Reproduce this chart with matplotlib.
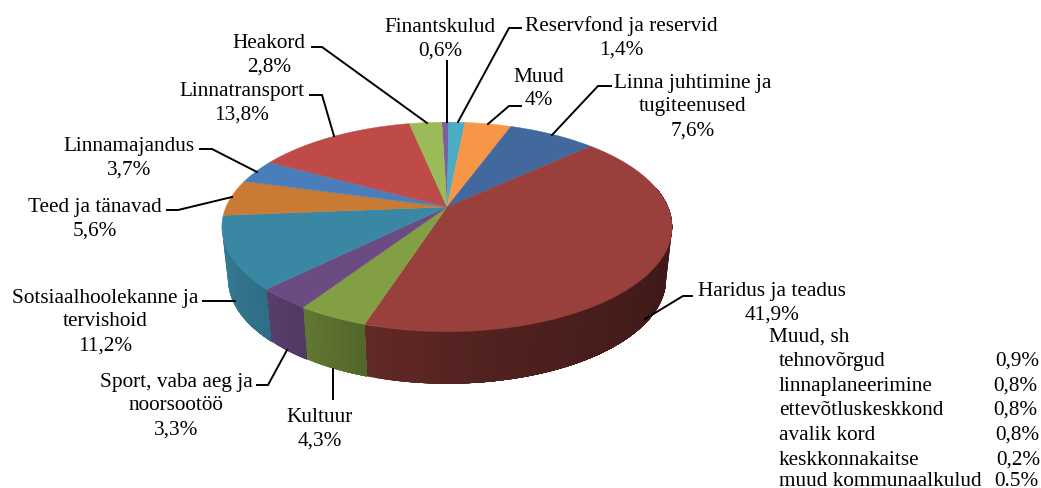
from matplotlib import pyplot as plt
from matplotlib import transforms as mtrans
from matplotlib.path import Path
import numpy as np

# slices, clockwise from the top of the pie
slice_names = ["Finantskulud", "Reservfond ja reservid", "Muud",
               "Linna juhtimine ja\ntugiteenused", "Haridus ja teadus", "Kultuur",
               "Sport, vaba aeg ja\nnoorsootöö", "Sotsiaalhoolekanne ja\ntervishoid",
               "Teed ja tänavad", "Linnamajandus", "Linnatransport", "Heakord"]
slice_values = [0.6, 1.4, 4, 7.6, 41.9, 4.3, 3.3, 11.2, 5.6, 3.7, 13.8, 2.8]
slice_texts = ["0,6%", "1,4%", "4%", "7,6%", "41,9%", "4,3%", "3,3%", "11,2%",
               "5,6%", "3,7%", "13,8%", "2,8%"]
slice_colors = ["#7a5fa5", "#4bacc6", "#f79646", "#41699e", "#9a403c", "#829f43",
                "#6a4b82", "#3a87a4", "#c97a34", "#4a7ebb", "#be4b48", "#9bbb59"]

# small table under the Haridus label
muud_title = "Muud, sh"
muud_names = ["tehnovõrgud", "linnaplaneerimine", "ettevõtluskeskkond", "avalik kord",
              "keskkonnakaitse", "muud kommunaalkulud"]
muud_texts = ["0,9%", "0,8%", "0,8%", "0,8%", "0,2%", "0.5%"]

START_ANGLE = 91.6
CX, CY = 447, 208
K, A, B = 0.19, 101, 221
DEPTH = 52
FONT = 15.3


class TiltTransform(mtrans.Transform):
    # unit circle -> tilted pie top, in pixel style data coords
    input_dims = 2
    output_dims = 2
    is_separable = False
    has_inverse = False

    def transform_non_affine(self, values):
        values = np.asarray(values, dtype=float)
        w = 1 + K * values[:, 1]
        return np.column_stack([CX + B * values[:, 0] / w, CY - A * values[:, 1] / w])

    def transform_path_non_affine(self, path):
        # flatten the arcs first, beziers do not survive a perspective map well
        big = path.transformed(mtrans.Affine2D().scale(3000))
        verts = big.to_polygons(closed_only=False)[0] / 3000
        return Path(self.transform_non_affine(verts))


def wall_shade(angle):
    return np.interp(angle, [-170, -130, -108, -80, -30, 10], [0.92, 0.8, 0.64, 0.52, 0.41, 0.41])


def draw_walls(ax, tilt):
    edges = START_ANGLE - np.concatenate([[0], np.cumsum(slice_values)]) * 360 / sum(slice_values)
    for i, color in enumerate(slice_colors):
        a2, a1 = edges[i], edges[i + 1]
        # only the near side of the pie is visible
        a2 = min(a2, 11) if a1 < 11 else a2
        a1 = max(a1, -169)
        if a1 >= a2 or a1 > 11:
            continue
        steps = np.linspace(a1, a2, max(2, int((a2 - a1) / 2) + 2))
        rgb = np.array(plt.matplotlib.colors.to_rgb(color))
        # each strip runs to the end of the slice, the next one paints over it
        for t1, t2 in zip(steps[:-1], steps[1:]):
            th = np.radians(np.linspace(t1, a2, 40))
            top = tilt.transform_non_affine(np.column_stack([np.cos(th), np.sin(th)]))
            low = np.column_stack([CX + 0.973 * (top[:, 0] - CX), top[:, 1] + DEPTH])
            poly = np.vstack([top, low[::-1]])
            col = rgb * wall_shade((t1 + t2) / 2)
            ax.fill(poly[:, 0], poly[:, 1], facecolor=col, edgecolor="none", lw=0, zorder=1)


if __name__ == "__main__":
    plt.rcParams["font.family"] = "Liberation Serif"
    fig = plt.figure(figsize=(10.41, 4.89), dpi=100)
    ax = fig.add_axes([0, 0, 1, 1])

    tilt = TiltTransform()
    draw_walls(ax, tilt)

    wedges, _ = ax.pie(slice_values, startangle=START_ANGLE, counterclock=False,
                       colors=slice_colors, wedgeprops={"linewidth": 0.3})
    for i, w in enumerate(wedges):
        w.set_edgecolor(slice_colors[i])
        w.set_transform(tilt + ax.transData)
        w.set_zorder(2)

    ax.set_aspect("auto")
    ax.set_xlim(0, 1041)
    ax.set_ylim(489, 0)
    ax.axis("off")

    # leader lines
    leaders = [[(447, 123), (447, 62)],
               [(458, 123), (509, 29), (521, 29)],
               [(488, 125), (509, 107), (521, 107)],
               [(552, 136), (598, 87), (611, 87)],
               [(645, 320), (683, 297), (692, 297)],
               [(333, 370), (333, 400)],
               [(287, 351), (268, 386), (257, 386)],
               [(235, 302), (203, 302)],
               [(232, 198), (178, 211), (167, 211)],
               [(257, 173), (212, 150), (200, 150)],
               [(334, 137), (322, 96), (310, 96)],
               [(427, 124), (322, 48), (312, 48)]]
    for pts in leaders:
        xs, ys = zip(*pts)
        ax.plot(xs, ys, color="black", lw=1.4, zorder=3, solid_joinstyle="miter")

    # labels
    label_pos = [(440, 39), (621, 38), (539, 89), (693, 107), (772, 303), (320, 429),
                 (176, 406), (105, 322), (95, 219), (129, 158), (242, 103), (269, 55)]
    for name, txt, (x, y) in zip(slice_names, slice_texts, label_pos):
        ax.text(x, y, name + "\n" + txt, ha="center", va="center", fontsize=FONT,
                linespacing=1.33, color="black", zorder=4)

    ax.text(769, 342, muud_title, ha="left", va="baseline", fontsize=FONT)
    rows_y = [366, 391, 415, 440, 465, 486]
    rows_x = [995, 993, 993, 995, 996, 994]
    for name, txt, y, x in zip(muud_names, muud_texts, rows_y, rows_x):
        ax.text(779, y, name, ha="left", va="baseline", fontsize=FONT)
        ax.text(x, y, txt, ha="left", va="baseline", fontsize=FONT)

    plt.savefig("out.png", dpi=100)
